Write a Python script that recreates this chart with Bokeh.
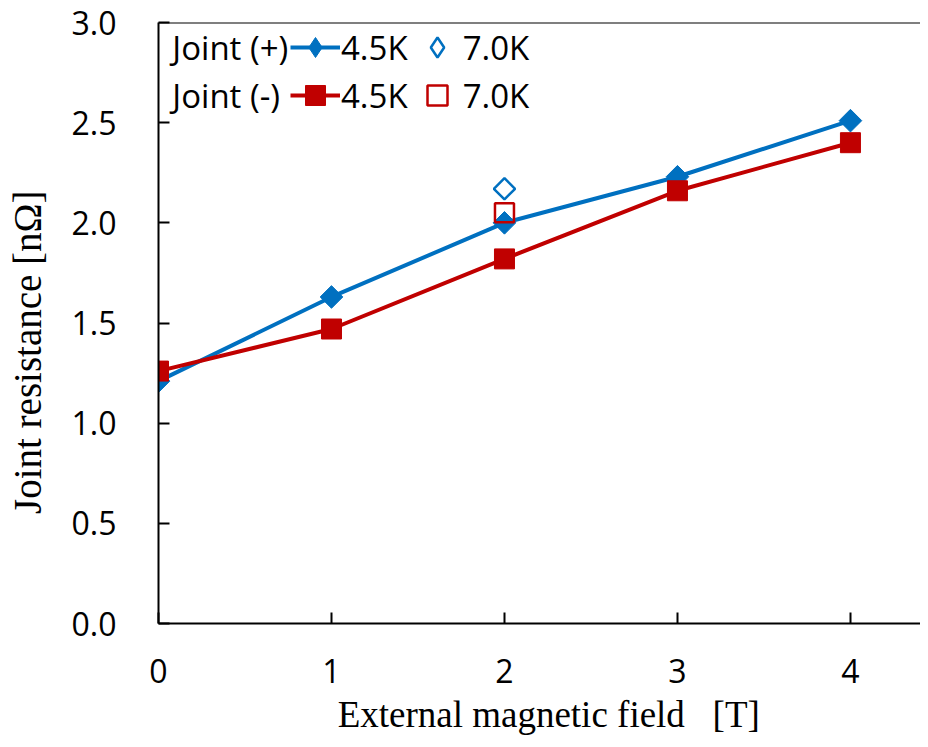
import math
from bokeh.plotting import figure
from bokeh.models import (Range1d, FixedTicker, PrintfTickFormatter, Label, Legend,
                          LegendItem, Span, ColumnDataSource)
from bokeh.embed import file_html
from bokeh.resources import INLINE

# ---- data ----
field = [0, 1, 2, 3, 4]
joint_plus_45K = [1.21, 1.63, 2.00, 2.23, 2.51]
joint_minus_45K = [1.26, 1.47, 1.82, 2.16, 2.40]
field_70K = [2]
joint_plus_70K = [2.17]
joint_minus_70K = [2.05]
x_ticks = [0, 1, 2, 3, 4]
y_ticks = [0.0, 0.5, 1.0, 1.5, 2.0, 2.5, 3.0]

BLUE = "#0070C0"
RED = "#C00000"
SANS = "Open Sans"
SERIF = "Liberation Serif"

p = figure(width=920, height=739, output_backend="svg", toolbar_location=None,
           x_range=Range1d(0, 4.405), y_range=Range1d(0, 3.0),
           min_border_left=158, min_border_right=0, min_border_top=22,
           min_border_bottom=116)
p.outline_line_color = None
p.grid.grid_line_color = None
p.background_fill_color = "white"
p.border_fill_color = "white"

for ax in (p.xaxis[0], p.yaxis[0]):
    ax.axis_line_color = "black"
    ax.axis_line_width = 2
    ax.major_tick_line_color = "black"
    ax.major_tick_line_width = 2
    ax.major_tick_in = 11
    ax.major_tick_out = 0
    ax.minor_tick_line_color = None
    ax.major_label_text_font = SANS
    ax.major_label_text_font_size = "32px"
    ax.major_label_text_color = "black"
    ax.axis_label_text_font = SERIF
    ax.axis_label_text_font_style = "normal"
    ax.axis_label_text_color = "black"

p.xaxis.ticker = FixedTicker(ticks=x_ticks)
p.yaxis.ticker = FixedTicker(ticks=y_ticks)
p.yaxis.formatter = PrintfTickFormatter(format="%.1f")
p.xaxis.major_label_standoff = 35
p.yaxis.major_label_standoff = 42

# leading spaces nudge the centred title right, as in the reference
p.xaxis.axis_label = "\u2002External magnetic field \u2002[T]"
p.xaxis.axis_label_text_font_size = "37px"
p.xaxis.axis_label_standoff = 8

# trailing spaces shift the rotated title down to where the reference has it
p.yaxis.axis_label = "Joint resistance [nΩ]\u2002\u2002\u2002"
p.yaxis.axis_label_text_font_size = "39px"
p.yaxis.axis_label_standoff = 20

# top border
p.add_layout(Span(location=3.0, dimension="width", line_color="black", line_width=2))

src_p = ColumnDataSource(dict(x=field, y=joint_plus_45K))
src_m = ColumnDataSource(dict(x=field, y=joint_minus_45K))

lp = p.line("x", "y", source=src_p, line_color=BLUE, line_width=4)
sp = p.scatter("x", "y", source=src_p, marker="square", angle=math.pi / 4, size=16,
               fill_color=BLUE, line_color=BLUE)
lm = p.line("x", "y", source=src_m, line_color=RED, line_width=4)
sm = p.scatter("x", "y", source=src_m, marker="square", size=20,
               fill_color=RED, line_color=RED)
op = p.scatter(field_70K, joint_plus_70K, marker="square", angle=math.pi / 4, size=15,
               fill_color=None, line_color=BLUE, line_width=2.5)
om = p.scatter(field_70K, joint_minus_70K, marker="square", size=19,
               fill_color=None, line_color=RED, line_width=2.5)

# legend-only key glyphs (hidden in the plot; legend keys ignore marker rotation)
key_p = p.scatter("x", "y", source=src_p, marker="diamond", fill_color=BLUE,
                  line_color=BLUE, visible=False)
key_op = p.scatter(field_70K, joint_plus_70K, marker="diamond", fill_color=None,
                   line_color=BLUE, line_width=2.5, visible=False)


def make_legend(items, y):
    lg = Legend(items=items, orientation="horizontal", location=(132, y),
                padding=0, margin=0, spacing=4, label_standoff=1,
                glyph_width=50, glyph_height=50, label_height=50,
                border_line_color=None, background_fill_alpha=0,
                inactive_fill_alpha=0, click_policy="none",
                label_text_font=SANS, label_text_font_size="33px",
                label_text_color="black")
    p.add_layout(lg, "center")


make_legend([LegendItem(label="4.5K", renderers=[lp, key_p]),
             LegendItem(label="7.0K", renderers=[key_op])], 551)
make_legend([LegendItem(label="4.5K", renderers=[lm, sm]),
             LegendItem(label="7.0K", renderers=[om])], 503)

p.add_layout(Label(x=0.08, y=2.876, text="Joint (+)", text_font=SANS,
                   text_font_size="33px", text_baseline="middle", text_align="left",
                   text_color="black"))
p.add_layout(Label(x=0.08, y=2.636, text="Joint (-)", text_font=SANS,
                   text_font_size="33px", text_baseline="middle", text_align="left",
                   text_color="black"))

open("out.html", "w").write(file_html(p, INLINE))
